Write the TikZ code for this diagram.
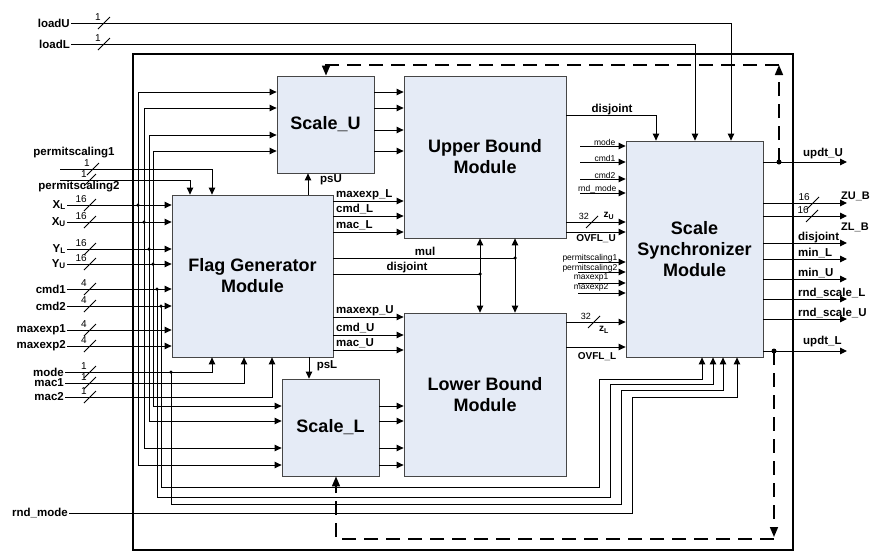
\documentclass[tikz,border=0pt]{standalone}
\usepackage{fontspec}
\setmainfont{Liberation Sans}
\usetikzlibrary{arrows.meta}
\definecolor{boxfill}{RGB}{229,235,246}
\definecolor{boxline}{RGB}{70,70,70}
\newcommand\busmark[4]{%
  \draw[line width=0.8pt] (#2-6,#3+6) -- (#2+6,#3-6);
  \node[num, anchor=south east] (#1) at (#2-3,#3-2) {#4};}
\tikzset{
  wire/.style={line width=1pt},
  arr/.style={wire,->},
  darr/.style={wire,<->},
  fb/.style={line width=1.6pt, dash pattern=on 14pt off 8pt, -{Triangle[length=10pt,width=8pt]}},
  box/.style={draw=boxline, fill=boxfill, line width=0.8pt, inner sep=0pt, align=center, font=\fontsize{18}{21}\selectfont\bfseries},
  lbl/.style={font=\fontsize{11.5}{13}\selectfont\bfseries, inner sep=1pt},
  olbl/.style={font=\fontsize{10}{12}\selectfont\bfseries, inner sep=0.5pt},
  sml/.style={font=\fontsize{8.5}{10}\selectfont, inner sep=0.5pt},
  num/.style={font=\fontsize{10}{11}\selectfont, inner sep=0pt},
  jdot/.style={circle, fill, inner sep=0pt, minimum size=3.5pt},
}
\begin{document}
\begin{tikzpicture}[x=1pt,y=-1pt,>={Triangle[length=7pt,width=6.5pt]}]
\useasboundingbox (0,0) rectangle (873,552);
\fill[white] (0,0) rectangle (873,552);
% frame
\node[draw, line width=1.8pt, minimum width=660pt, minimum height=496pt, inner sep=0pt] (frame) at (463,302) {};
% modules
\node[box, minimum width=97pt, minimum height=97pt] (ScaleU) at (325.5,124.5) {Scale\_U};
\node[box, minimum width=162pt, minimum height=162pt] (Upper) at (485,157) {Upper Bound\\Module};
\node[box, minimum width=161pt, minimum height=162pt] (Flag) at (252.5,276) {Flag Generator\\Module};
\node[box, minimum width=97pt, minimum height=97pt] (ScaleL) at (330.5,427.5) {Scale\_L};
\node[box, minimum width=162pt, minimum height=163pt] (Lower) at (485,394.5) {Lower Bound\\Module};
\node[box, minimum width=137pt, minimum height=216pt] (Sync) at (694.5,249) {Scale\\Synchronizer\\Module};

% left input labels
\node[lbl,anchor=east] (loadU) at (71,23) {loadU};
\node[lbl,anchor=east] (loadL) at (71,44) {loadL};
\node[lbl] (psA) at (74,153) {permitscaling1};
\node[lbl] (psB) at (79,187) {permitscaling2};
\coordinate (psAs) at (60,169);
\coordinate (psBs) at (60,180);
\node[lbl,anchor=east] (XL) at (67,205) {X\textsubscript{L}};
\node[lbl,anchor=east] (XU) at (67,222) {X\textsubscript{U}};
\node[lbl,anchor=east] (YL) at (67,249) {Y\textsubscript{L}};
\node[lbl,anchor=east] (YU) at (67,264) {Y\textsubscript{U}};
\node[lbl,anchor=east] (cmdA) at (67,289) {cmd1};
\node[lbl,anchor=east] (cmdB) at (67,306) {cmd2};
\node[lbl,anchor=east] (mxA) at (67,330) {maxexp1};
\node[lbl,anchor=east] (mxB) at (67,346) {maxexp2};
\node[lbl,anchor=east] (mode) at (65,372) {mode};
\node[lbl,anchor=east] (macA) at (65,383) {mac1};
\node[lbl,anchor=east] (macB) at (65,397) {mac2};
\node[lbl,anchor=east] (rnd) at (69,513) {rnd\_mode};

% load lines
\draw[arr] (loadU.east) -| (Sync.north -| 731,0);
\draw[arr] (loadL.east) -| (Sync.north -| 695,0);
\busmark{nLU}{104}{23}{1}
\busmark{nLL}{104}{44}{1}
% permitscaling to flag top
\draw[arr] (psAs) -| (Flag.north -| 212,0);
\draw[arr] (psBs) -| (Flag.north -| 190,0);
\busmark{nPA}{93}{169}{1}
\busmark{nPB}{90}{180}{1}
% flag left inputs
\draw[arr] (XL.east) -- (XL.east -| Flag.west);
\draw[arr] (XU.east) -- (XU.east -| Flag.west);
\draw[arr] (YL.east) -- (YL.east -| Flag.west);
\draw[arr] (YU.east) -- (YU.east -| Flag.west);
\draw[arr] (cmdA.east) -- (cmdA.east -| Flag.west);
\draw[arr] (cmdB.east) -- (cmdB.east -| Flag.west);
\draw[arr] (mxA.east) -- (mxA.east -| Flag.west);
\draw[arr] (mxB.east) -- (mxB.east -| Flag.west);
\busmark{nXL}{90}{205}{16}
\busmark{nXU}{90}{222}{16}
\busmark{nYL}{90}{249}{16}
\busmark{nYU}{90}{264}{16}
\busmark{nCA}{90}{289}{4}
\busmark{nCB}{90}{306}{4}
\busmark{nMA}{90}{330}{4}
\busmark{nMB}{90}{346}{4}
% flag bottom inputs
\draw[arr] (mode.east) -| (Flag.south -| 212,0);
\draw[arr] (macA.east) -| (Flag.south -| 244,0);
\draw[arr] (macB.east) -| (Flag.south -| 272,0);
\busmark{nMo}{90}{372}{1}
\busmark{nMc1}{90}{383}{1}
\busmark{nMc2}{90}{397}{1}

% branch buses to scale units
\node[jdot] (jXL) at (138,205) {};
\node[jdot] (jXU) at (144,222) {};
\node[jdot] (jYL) at (149,249) {};
\node[jdot] (jYU) at (153,264) {};
\node[jdot] (jcA) at (157,289) {};
\node[jdot] (jcB) at (161,306) {};
\node[jdot] (jmd) at (171,372) {};
\draw[arr] (jXL.center) |- (ScaleU.west |- 0,92);
\draw[arr] (jXL.center) |- (ScaleL.west |- 0,465);
\draw[arr] (jXU.center) |- (ScaleU.west |- 0,108);
\draw[arr] (jXU.center) |- (ScaleL.west |- 0,448);
\draw[arr] (jYL.center) |- (ScaleU.west |- 0,135);
\draw[arr] (jYL.center) |- (ScaleL.west |- 0,421);
\draw[arr] (jYU.center) |- (ScaleU.west |- 0,151);
\draw[arr] (jYU.center) |- (ScaleL.west |- 0,406);
% routes to synchronizer bottom
\draw[arr] (jcB.center) |- (599,487) |- (702,379) -- (Sync.south -| 702,0);
\draw[arr] (jcA.center) |- (610,497) |- (713,384) -- (Sync.south -| 713,0);
\draw[arr] (jmd.center) |- (621,504) |- (723,390) -- (Sync.south -| 723,0);
\draw[arr] (rnd.east) -| (632,397) -| (Sync.south -| 737,0);

% ps signals
\draw[arr] (Flag.north -| 308,0) -- (ScaleU.south -| 308,0);
\node[lbl] (tpsU) at (331,180) {psU};
\draw[arr] (Flag.south -| 309,0) -- (ScaleL.north -| 309,0);
\node[lbl] (tpsL) at (327,366) {psL};

% flag outputs
\draw[arr] (Flag.east |- 0,201) -- (Upper.west |- 0,201);
\draw[arr] (Flag.east |- 0,216) -- (Upper.west |- 0,216);
\draw[arr] (Flag.east |- 0,232) -- (Upper.west |- 0,232);
\node[lbl,anchor=base west] (tmxL) at (335,197.5) {maxexp\_L};
\node[lbl,anchor=base west] (tcmL) at (335,212.5) {cmd\_L};
\node[lbl,anchor=base west] (tmcL) at (335,228.5) {mac\_L};
\draw[arr] (Flag.east |- 0,317) -- (Lower.west |- 0,317);
\draw[arr] (Flag.east |- 0,335) -- (Lower.west |- 0,335);
\draw[arr] (Flag.east |- 0,350) -- (Lower.west |- 0,350);
\node[lbl,anchor=base west] (tmxU) at (335,313.5) {maxexp\_U};
\node[lbl,anchor=base west] (tcmU) at (335,331.5) {cmd\_U};
\node[lbl,anchor=base west] (tmcU) at (335,346.5) {mac\_U};
\node[jdot] (jmul) at (515,258) {};
\node[jdot] (jdis) at (480,274) {};
\draw[wire] (Flag.east |- 0,258) -- (jmul.center);
\draw[wire] (Flag.east |- 0,274) -- (jdis.center);
\node[lbl,anchor=base] (tmul) at (425,255.5) {mul};
\node[lbl,anchor=base] (tdis) at (407,270.5) {disjoint};
\draw[darr] (Upper.south -| 480,0) -- (Lower.north -| 480,0);
\draw[darr] (Upper.south -| 515,0) -- (Lower.north -| 515,0);

% scale units to bound modules
\foreach \y in {92,108,130,151} \draw[arr] (ScaleU.east |- 0,\y) -- (Upper.west |- 0,\y);
\foreach \y in {406,421,448,465} \draw[arr] (ScaleL.east |- 0,\y) -- (Lower.west |- 0,\y);

% bound modules to synchronizer
\draw[arr] (Upper.east |- 0,115) -| (Sync.north -| 656,0);
\node[lbl,anchor=base] (tdisU) at (612,112) {disjoint};
\draw[arr] (Upper.east |- 0,222) -- (Sync.west |- 0,222);
\busmark{n32U}{592}{222}{\fontsize{9}{10}\selectfont 32}
\node[olbl] (tzU) at (609,216) {z\textsubscript{U}};
\draw[arr] (Upper.east |- 0,232) -- (Sync.west |- 0,232);
\node[olbl,anchor=north] (tovU) at (596,233.5) {OVFL\_U};
\draw[arr] (Lower.east |- 0,322) -- (Sync.west |- 0,322);
\busmark{n32L}{594}{322}{\fontsize{9}{10}\selectfont 32}
\node[olbl] (tzL) at (604,330) {z\textsubscript{L}};
\draw[arr] (Lower.east |- 0,347) -- (Sync.west |- 0,347);
\node[olbl,anchor=north] (tovL) at (597,351.5) {OVFL\_L};

% synchronizer side stubs
\coordinate (sA) at (580,146);
\coordinate (sB) at (580,162);
\coordinate (sC) at (580,179);
\coordinate (sD) at (580,193);
\coordinate (sE) at (578,262);
\coordinate (sF) at (578,272);
\coordinate (sG) at (578,283);
\coordinate (sH) at (578,293);
\foreach \c in {sA,sB,sC,sD,sE,sF,sG,sH} \draw[arr] (\c) -- (Sync.west |- \c);
\node[sml,anchor=south east] (tsA) at (616,146.5) {mode};
\node[sml,anchor=south east] (tsB) at (616,162.5) {cmd1};
\node[sml,anchor=south east] (tsC) at (616,179.5) {cmd2};
\node[sml,anchor=south east] (tsD) at (617,193.5) {rnd\_mode};
\node[sml,anchor=south east] (tsE) at (618,263) {permitscaling1};
\node[sml,anchor=south east] (tsF) at (618,273) {permitscaling2};
\node[sml,anchor=south east] (tsG) at (609,282) {maxexp1};
\node[sml,anchor=south east] (tsH) at (609,292) {maxexp2};

% synchronizer outputs
\coordinate (oA) at (847,162);
\coordinate (oB) at (847,203);
\coordinate (oC) at (847,216);
\coordinate (oD) at (847,243);
\coordinate (oE) at (847,259);
\coordinate (oF) at (847,279);
\coordinate (oG) at (847,299);
\coordinate (oH) at (847,319);
\coordinate (oI) at (847,351);
\foreach \c in {oA,oB,oC,oD,oE,oF,oG,oH,oI} \draw[arr] (Sync.east |- \c) -- (\c);
\node[jdot, minimum size=5pt] (jUU) at (779,162) {};
\node[jdot, minimum size=5pt] (jUL) at (774,351) {};
\node[lbl,anchor=base west] (toA) at (802,156) {updt\_U};
\busmark{nZU}{813}{203}{16}
\node[lbl,anchor=base west, inner sep=0pt, font=\fontsize{11}{13}\selectfont\bfseries] (toB) at (841,199) {ZU\_B};
\busmark{nZL}{812}{216}{16}
\node[lbl,anchor=base west, inner sep=0pt, font=\fontsize{11}{13}\selectfont\bfseries] (toC) at (841,230) {ZL\_B};
\node[lbl,anchor=base west] (toD) at (797,240) {disjoint};
\node[lbl,anchor=base west] (toE) at (797,256.5) {min\_L};
\node[lbl,anchor=base west] (toF) at (797,276.5) {min\_U};
\node[lbl,anchor=base west] (toG) at (797,296.5) {rnd\_scale\_L};
\node[lbl,anchor=base west] (toH) at (797,316.5) {rnd\_scale\_U};
\node[lbl,anchor=base west] (toI) at (802,344) {updt\_L};

% dashed feedback
\coordinate (cTR) at (779,65);
\coordinate (cBR) at (774,539);
\draw[fb] (jUU.center) -- (cTR);
\draw[fb] (cTR) -| (ScaleU.north -| 326,0);
\draw[fb] (jUL.center) -- (774,537);
\draw[fb] (cBR) -| (ScaleL.south -| 336,0);
\end{tikzpicture}
\end{document}
